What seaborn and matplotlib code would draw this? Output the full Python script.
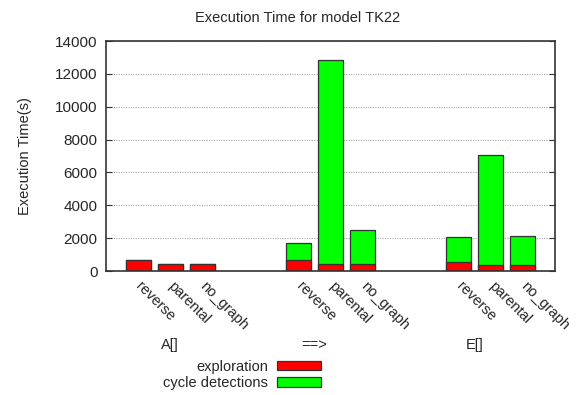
import numpy as np
import pandas as pd
import seaborn as sns
import matplotlib
matplotlib.use("Agg")
import matplotlib.pyplot as plt
from matplotlib.patches import Patch
from matplotlib.transforms import blended_transform_factory, ScaledTranslation

# Execution time per strategy, grouped by property type
groups = ["A[]", "==>", "E[]"]
strategies = ["reverse", "parental", "no_graph"]
exploration = [650, 400, 400, 650, 400, 400, 530, 350, 350]
cycle_detection = [0, 0, 0, 1050, 12450, 2100, 1520, 6730, 1780]
yticks = [0, 2000, 4000, 6000, 8000, 10000, 12000, 14000]

GREEN = "#00ff00"
RED = "#ff0000"

rows = []
for gi, g in enumerate(groups):
    for si, s in enumerate(strategies):
        k = gi * len(strategies) + si
        rows.append({
            "group": g,
            "strategy": s,
            "pos": gi * 5 + si,
            "exploration": exploration[k],
            "total": exploration[k] + cycle_detection[k],
        })
df = pd.DataFrame(rows)

sns.set_style("white")
plt.rcParams["font.family"] = ["Liberation Sans", "DejaVu Sans"]

fig = plt.figure(figsize=(5.79, 3.95), dpi=100)
ax = fig.add_axes([0.1831, 0.3139, 0.7754, 0.5823])

ax.set_axisbelow(True)
ax.yaxis.grid(True, linestyle=(0, (1, 1.2)), color="#aaaaaa", linewidth=0.8)

bar_kw = dict(native_scale=True, width=0.78, edgecolor="#333333",
              linewidth=0.9, errorbar=None, ax=ax)
sns.barplot(data=df, x="pos", y="total", color=GREEN, saturation=1, **bar_kw)
sns.barplot(data=df, x="pos", y="exploration", color=RED, saturation=1, **bar_kw)

ax.set_xlim(-1, 13)
ax.set_ylim(0, 14000)
ax.set_yticks(yticks)
ax.set_yticklabels([str(v) for v in yticks], fontsize=11)
ax.tick_params(axis="y", direction="in", length=4, right=True, left=True,
               color="#333333", pad=6)

ax.set_xticks(df["pos"])
ax.set_xticklabels(df["strategy"], rotation=-45, ha="left", va="top",
                   rotation_mode="anchor", fontsize=10.5)
ax.tick_params(axis="x", length=0, pad=6)
shift = ScaledTranslation(0.05, 0, fig.dpi_scale_trans)
for lbl in ax.get_xticklabels():
    lbl.set_transform(lbl.get_transform() + shift)
ax.set_xlabel("")
ax.set_ylabel("Execution Time(s)", fontsize=10.5)
ax.yaxis.set_label_coords(-0.165, 0.5)

for sp in ax.spines.values():
    sp.set_visible(True)
    sp.set_color("#333333")
    sp.set_linewidth(1.2)

trans = blended_transform_factory(ax.transData, ax.transAxes)
for x, g in zip([1, 5.5, 10.5], groups):
    ax.text(x, -0.322, g, transform=trans, ha="center", va="center", fontsize=10.5)

fig.text(298 / 579, 1 - 18 / 395, "Execution Time for model TK22",
         ha="center", va="center", fontsize=10.5)

handles = [Patch(facecolor=RED, edgecolor="#333333", linewidth=0.9),
           Patch(facecolor=GREEN, edgecolor="#333333", linewidth=0.9)]
fig.legend(handles, ["exploration", "cycle detections"], loc="center",
           bbox_to_anchor=(242 / 579, 1 - 375 / 395), frameon=False,
           markerfirst=False, fontsize=10.5, handlelength=3.0,
           handleheight=0.6, labelspacing=0.15, handletextpad=0.6,
           borderpad=0, borderaxespad=0)

fig.savefig("out.png", dpi=100)
